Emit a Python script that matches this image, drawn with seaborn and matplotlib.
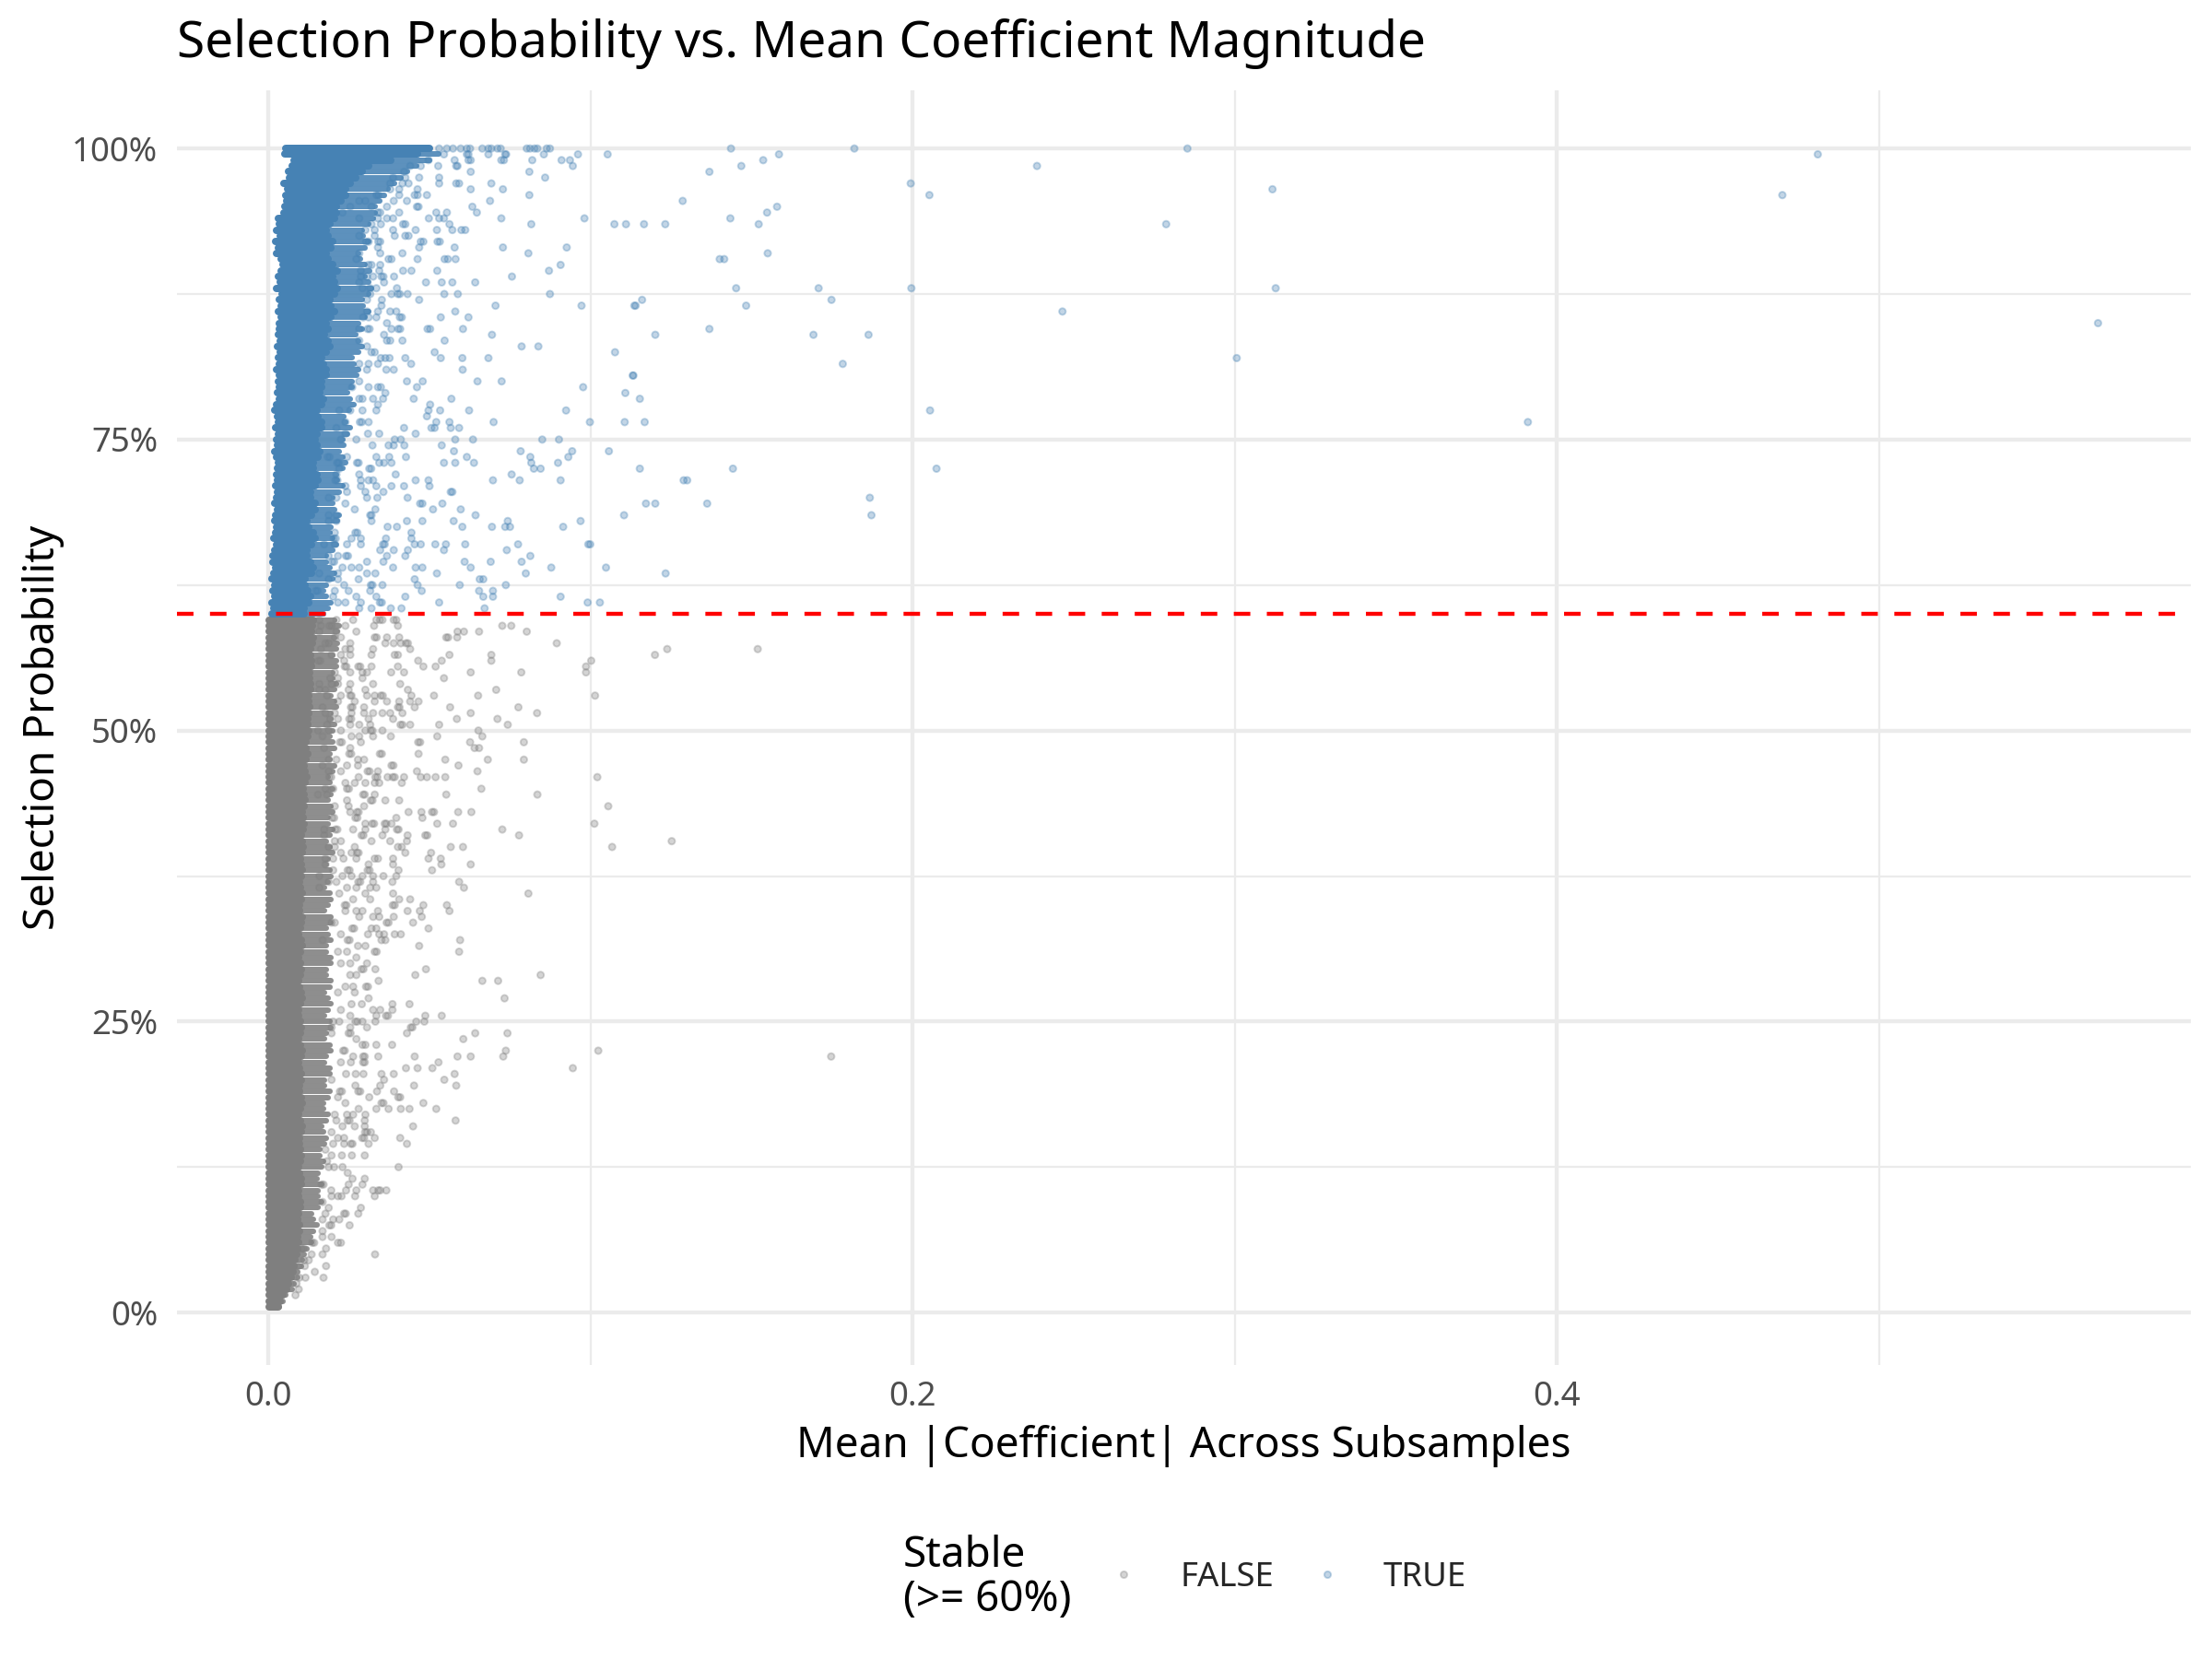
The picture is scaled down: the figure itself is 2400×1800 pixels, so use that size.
#!/usr/bin/env python3
import matplotlib
matplotlib.use('Agg')
import matplotlib.pyplot as plt
from matplotlib.lines import Line2D
import pandas as pd
import seaborn as sns

stable_90s = {
    100.0: [53.0, 55.4, 57.3, 59.7, 61.6, 62.6, 66.4, 68.3, 69.2, 71.1, 72.1, 80.2, 81.2, 82.6, 83.5, 86.4, 87.4],
    99.5: [54.5, 61.6, 62.1, 68.3, 73.5, 73.8, 85.5, 96.1, 105.3],
    99.0: [49.7, 57.8, 62.1, 62.8, 72.3, 73.1, 81.9, 91.0, 93.6],
    98.5: [44.0, 47.3, 52.7, 58.3, 58.7, 94.5],
    98.0: [42.1, 62.8, 81.0],
    97.5: [38.7, 42.5, 46.8, 53.0, 85.9],
    97.0: [37.8, 41.6, 43.5, 53.0, 58.3, 59.2, 69.2],
    96.5: [37.8, 40.6, 46.3, 62.8, 72.8],
    96.0: [33.5, 34.1, 40.6, 45.4, 46.3, 49.2, 81.0],
    95.5: [28.2, 30.1, 38.9, 43.0, 68.8],
    95.0: [25.4, 32.0, 36.8, 46.1, 46.6, 63.3],
    94.5: [23.0, 34.0, 34.7, 40.6, 52.1, 55.4, 64.7],
    94.0: [28.2, 34.0, 36.8, 38.7, 49.8, 53.0, 54.5, 72.3, 98.1],
    93.5: [32.0, 34.9, 41.8, 42.5, 56.2, 81.6, 107.4, 111.0],
    93.0: [30.1, 33.0, 38.7, 45.7, 52.3, 57.1, 59.9, 61.1],
    92.5: [28.2, 33.0, 39.2, 42.5, 43.5],
    92.0: [30.3, 31.1, 34.1, 34.7, 47.3, 48.1, 52.5, 53.2],
    91.5: [34.0, 46.8, 57.8, 72.8, 92.6],
    91.0: [28.2, 34.7, 41.6, 80.7],
    90.5: [27.3, 37.3, 38.2, 46.3, 54.7, 55.7, 58.1],
    90.0: [31.1, 32.0, 34.7, 90.7],
}
stable_80s = {
    89.5: [28.7, 34.4, 41.8, 44.4, 52.4, 87.1],
    89.0: [28.7, 30.6, 32.5, 35.1, 35.7, 39.0, 75.6],
    88.5: [28.2, 35.9, 48.9, 53.8, 57.1, 64.2],
    88.0: [29.2, 31.6, 33.5, 39.9],
    87.5: [31.6, 38.2, 40.2, 40.8, 43.2, 54.6, 58.8, 87.4],
    87.0: [30.6, 35.2, 46.8],
    86.5: [35.1, 70.5, 97.2, 113.6],
    86.0: [30.6, 34.0, 37.8, 39.7, 58.0],
    85.5: [29.4, 31.1, 33.5, 40.8, 41.4, 53.5, 62.1],
    85.0: [36.8],
    84.5: [28.2, 30.8, 31.4, 38.2, 40.3, 40.9, 49.4, 50.2, 60.4],
    84.0: [35.9, 69.4],
    83.5: [28.2, 36.8, 37.8, 41.6, 54.7],
    83.0: [30.6, 78.6, 83.8],
    82.5: [32.0, 33.0, 51.6, 107.6],
    82.0: [34.9, 36.3, 37.6, 42.5, 53.5, 60.2, 68.3],
    81.5: [28.2, 31.1, 34.0, 44.3],
    81.0: [30.6, 36.6, 38.9, 60.3],
    80.5: [113.1],
    80.0: [28.2, 43.0, 47.9, 64.9, 72.4],
}
stable_70s = {
    79.5: [26.0, 31.1, 34.0, 34.9, 46.1, 97.7],
    79.0: [36.3, 110.8],
    78.5: [28.2, 29.2, 32.5, 35.6, 45.1, 56.8],
    78.0: [34.0, 50.2],
    77.5: [22.0, 25.4, 29.2, 33.5, 49.7, 53.3, 62.3, 92.4],
    77.0: [49.2],
    76.5: [23.9, 28.4, 29.0, 31.1, 52.1, 56.2, 69.9, 99.8, 110.6],
    76.0: [21.1, 42.1, 50.6, 51.6, 56.6, 59.2],
    75.5: [23.9, 30.9, 34.4, 45.7],
    75.0: [22.5, 27.3, 39.2, 41.1, 58.0, 63.5, 85.0, 90.2],
    74.5: [32.3, 37.3, 38.9, 42.2, 53.8],
    74.0: [57.6, 78.3, 94.3, 105.7],
    73.5: [18.4, 19.0, 24.4, 33.5, 37.5, 42.7, 61.6, 81.3, 93.1],
    73.0: [21.3, 21.8, 27.5, 28.0, 34.4, 35.9, 38.2, 54.5, 58.0, 63.8, 81.6, 89.9],
    72.5: [22.0, 31.3, 31.9, 82.4, 84.5],
    72.0: [21.1, 28.2, 39.5, 75.5],
    71.5: [20.8, 21.4, 28.7, 31.1, 32.5, 45.7, 49.7, 69.7, 78.0, 90.7],
    71.0: [23.9, 28.7, 33.5, 38.2, 42.1, 50.0],
    70.5: [24.4, 30.1, 35.7, 56.6, 57.1],
    70.0: [18.7, 21.1, 30.6, 33.8, 43.2],
}
stable_60s = {
    69.5: [23.9, 47.1, 47.8, 54.0],
    69.0: [26.8, 33.2, 51.1, 59.7],
    68.5: [18.7, 21.1, 31.6, 32.0, 64.3, 110.4],
    68.0: [18.7, 21.1, 32.0, 43.0, 47.8, 57.5, 74.3, 96.9],
    67.5: [37.0, 39.9, 60.2, 69.4, 73.5, 75.0, 91.5],
    67.0: [20.6, 27.0, 27.6, 44.4],
    66.5: [20.3, 20.9, 25.8, 28.7, 36.5, 44.4],
    66.0: [17.3, 20.6, 24.4, 28.7, 35.6, 36.1, 45.4, 47.3, 51.8, 55.1, 61.1, 77.5, 99.3, 99.9],
    65.5: [34.7, 38.9, 43.3, 54.5, 74.0],
    65.0: [18.7, 21.6, 24.1, 24.7, 36.8, 42.5, 81.3],
    64.5: [19.8, 20.4, 30.6, 35.7, 60.9, 69.0, 78.6],
    64.0: [23.0, 25.8, 28.2, 38.7, 45.7, 47.8, 62.8, 87.8, 104.8],
    63.5: [15.8, 21.6, 30.6, 33.2, 52.3, 79.9],
    63.0: [18.7, 21.6, 28.0, 45.4, 65.6, 66.7],
    62.5: [23.5, 31.8, 32.3, 35.4, 46.3, 59.4, 73.7],
    62.0: [14.7, 15.3, 20.6, 24.9, 31.6, 47.6, 65.4, 69.7],
    61.5: [20.1, 27.3, 33.5, 42.5, 66.7, 69.7, 90.7],
    61.0: [21.6, 23.9, 28.7, 34.6, 35.2, 53.0, 99.1, 102.9],
    60.5: [28.2, 32.0, 38.0, 41.3, 67.1],
}
unstable_50s = {
    59.5: [15.8, 21.1, 26.3, 33.5, 34.6, 35.4, 38.9, 39.7],
    59.0: [16.3, 18.9, 19.6, 23.9, 32.8, 40.2, 72.6, 75.4],
    58.5: [15.8, 21.1, 27.3, 58.7, 60.7, 65.4, 80.2],
    58.0: [20.6, 22.5, 33.0, 33.6, 36.8, 40.6, 55.2, 55.8, 58.6],
    57.5: [17.7, 18.7, 25.4, 36.3, 38.9, 41.1, 42.7, 43.3, 89.5],
    57.0: [16.3, 23.9, 25.4, 32.5, 44.0],
    56.5: [19.6, 22.5, 25.4, 32.0, 39.2, 40.2, 56.2, 69.2],
    56.0: [15.5, 16.1, 23.5, 46.5, 53.8, 69.2, 100.2],
    55.5: [23.7, 24.2, 27.9, 28.5, 32.0, 40.2, 48.1, 51.9, 98.6],
    55.0: [20.6, 25.4, 29.2, 30.6, 38.1, 42.1, 62.8, 78.5, 98.6],
    54.5: [19.2, 21.6, 29.2, 54.5],
    54.0: [15.8, 19.6, 21.6, 25.4, 32.5, 40.9],
    53.5: [15.8, 17.7, 24.9, 30.1, 43.3, 70.7],
    53.0: [18.2, 22.5, 25.4, 25.8, 30.6, 33.0, 34.9, 35.5, 44.4, 51.4, 65.1, 101.4],
    52.5: [21.6, 26.8, 33.0, 36.8, 40.6, 44.0, 46.6],
    52.0: [16.8, 25.6, 26.1, 29.7, 40.2, 40.7, 45.4, 56.4, 77.6],
    51.5: [17.7, 20.6, 25.8, 29.7, 32.5, 35.4, 37.8, 41.6, 62.8, 83.4],
    51.0: [19.2, 21.6, 25.1, 25.7, 31.1, 38.7, 58.5, 71.1],
    50.5: [18.2, 25.4, 28.2, 31.6, 41.0, 41.6, 44.0, 53.0, 74.3],
    50.0: [15.4, 18.7, 22.5, 30.1, 31.8, 32.3, 35.4, 65.2],
}
unstable_40s = {
    49.5: [16.8, 25.8, 28.2, 32.5, 38.0, 52.4, 66.4],
    49.0: [22.2, 22.8, 28.7, 46.5, 47.1, 62.6, 79.3],
    48.5: [17.3, 25.4, 64.0, 65.4],
    48.0: [25.1, 25.7, 34.6, 35.2, 46.6],
    47.5: [18.7, 21.1, 27.8, 29.7, 54.9, 68.1, 79.3],
    47.0: [16.8, 24.4, 27.8, 38.2, 38.8, 59.0],
    46.5: [18.7, 22.5, 30.8, 31.4, 34.0, 46.1, 64.9],
    46.0: [18.9, 19.5, 28.0, 33.2, 33.8, 37.0, 38.6, 39.2, 42.1, 47.3, 49.2, 51.9, 54.9, 102.1],
    45.5: [23.9, 26.8, 30.1, 33.0, 34.4, 41.4],
    45.0: [17.7, 20.1, 24.4, 25.0, 66.1],
    44.5: [15.4, 18.2, 29.4, 29.9, 33.0, 55.2, 83.5],
    44.0: [24.4, 31.8, 32.3, 36.3, 40.6],
    43.5: [20.6, 24.9, 29.7, 105.5],
    43.0: [25.4, 27.5, 28.0, 43.5, 47.5, 50.8, 51.4, 58.9, 63.0],
    42.5: [19.8, 20.4, 27.0, 27.6, 39.7, 47.8],
    42.0: [30.1, 32.2, 32.8, 36.1, 36.6, 38.2, 52.4, 57.3, 101.2],
    41.5: [17.3, 20.8, 21.4, 26.3, 30.1, 36.3, 39.9, 40.4, 72.6],
    41.0: [17.3, 28.9, 29.5, 35.4, 43.2, 48.7, 49.3, 77.8],
    40.5: [20.6, 22.5, 32.0, 37.8, 43.0],
    40.0: [18.7, 20.6, 26.8, 40.2, 41.4, 56.6, 60.4, 106.7],
}
unstable_30s = {
    39.5: [22.5, 25.8, 27.5, 28.0, 42.5, 50.5],
    39.0: [17.7, 20.1, 23.3, 27.3, 33.0, 34.0, 38.7, 49.7, 53.5],
    38.5: [17.7, 31.1, 38.7, 53.7, 62.8],
    38.0: [20.1, 24.6, 25.2, 30.8, 31.4, 40.4, 50.8],
    37.5: [15.8, 23.0, 25.8, 29.2, 32.5, 35.7, 39.7],
    37.0: [18.7, 21.1, 27.9, 28.5, 32.5, 38.5, 59.2],
    36.5: [15.8, 24.4, 27.3, 31.6, 33.5, 60.7],
    36.0: [22.0, 30.1, 38.7, 80.7],
    35.5: [26.3, 31.6, 40.6, 44.0],
    35.0: [23.7, 24.2, 38.6, 39.2, 48.1, 55.4],
    34.5: [23.9, 27.3, 29.2, 34.0, 43.2, 47.0, 56.2],
    34.0: [28.2, 32.5, 34.4, 38.9, 47.6],
    33.5: [19.6, 20.6, 36.7, 37.3, 44.9],
    33.0: [26.0, 26.6, 32.0, 33.5, 49.7],
    32.5: [22.5, 30.9, 34.4, 35.9, 39.2, 41.1],
    32.0: [16.8, 24.6, 25.2, 35.1, 36.3, 59.5],
    31.5: [27.8, 30.1, 46.8],
    31.0: [21.6, 24.4, 33.0, 33.6, 59.2],
    30.5: [27.3],
    30.0: [22.5, 25.4, 30.6],
}
unstable_20s = {
    29.5: [28.9, 29.5, 33.2, 48.9],
    29.0: [25.4, 27.3, 45.6, 84.5],
    28.5: [34.2, 66.4, 71.3],
    28.0: [23.9, 26.3, 30.3, 30.9],
    27.5: [21.6, 26.8],
    27.0: [31.1, 73.3],
    26.5: [25.8, 29.0, 38.5, 43.8],
    26.0: [22.5, 32.5, 34.7, 38.5],
    25.5: [25.4, 33.5, 36.5, 37.1, 48.7, 53.8],
    25.0: [20.1, 22.0, 27.0, 27.6, 29.2, 33.2, 45.9, 48.4],
    24.5: [19.6, 25.4, 30.6, 44.2, 44.7],
    24.0: [19.6, 24.9, 25.5, 43.0, 64.2, 74.2],
    23.5: [27.3, 60.5],
    23.0: [29.2, 30.1, 33.5, 38.4],
    22.5: [23.2, 23.7, 73.7, 102.4],
    22.0: [26.3, 29.4, 29.9, 34.1, 45.4, 58.7, 62.8, 72.9],
    21.5: [22.5, 25.6, 29.4, 29.9, 52.8],
    21.0: [42.7, 46.3, 50.9, 94.5],
    20.5: [24.1, 27.1, 29.5, 35.1, 38.9, 57.8],
    20.0: [19.6, 35.9, 54.6],
}
unstable_10s = {
    19.5: [27.0, 34.7, 45.2, 58.3],
    19.0: [22.2, 22.8, 27.9, 28.5, 33.7, 39.0],
    18.5: [21.6, 31.3, 40.3, 40.9],
    18.0: [23.9, 35.1, 35.7, 48.1],
    17.5: [28.0, 33.5, 37.3, 41.1, 43.8, 52.1],
    17.0: [20.6, 24.4, 26.3, 30.1],
    16.5: [21.1, 24.6, 25.2, 29.9, 58.1],
    16.0: [23.0, 26.8, 29.9, 44.9],
    15.5: [19.6, 30.0, 30.6, 31.8],
    15.0: [21.6, 23.5, 29.1, 29.7, 33.0, 40.9],
    14.5: [20.1, 23.5, 25.6, 26.1, 31.1, 43.0],
    14.0: [17.7],
    13.5: [19.6, 22.8, 25.9, 29.9],
    13.0: [18.2],
    12.5: [18.7, 20.4, 23.0, 40.4],
    12.0: [24.6],
    11.5: [26.1, 29.9],
    11.0: [16.5, 17.1, 24.9, 29.2],
    10.5: [19.5, 24.1, 27.3, 32.5, 34.1, 34.7, 36.6],
    10.0: [19.6, 21.6, 22.7, 26.9, 33.0],
}
unstable_00s = {
    9.5: [16.8],
    9.0: [18.7, 28.7],
    8.5: [17.7, 23.5, 24.0, 27.9],
    8.0: [16.8, 20.1, 22.0],
    7.5: [18.9, 19.5, 25.2],
    7.0: [16.8],
    6.5: [16.8, 19.6],
    6.0: [13.6, 14.2, 21.6, 22.5],
    5.5: [10.3, 10.9, 17.9],
    5.0: [13.4, 16.8, 33.1],
    4.5: [11.1, 12.5],
    4.0: [9.2, 11.3, 17.9],
    3.5: [14.4],
    3.0: [9.6, 11.5, 17.1],
    2.5: [8.7],
    2.0: [9.4],
    1.5: [8.4],
}

# Far outliers, in plain units
stable_far_x = [.1436, .1819, .2853, .1585, .1536, .1468, .1369, .2386, .1994, .2052, .3117, .1286,
                .1579, .1548, .1434, .1166, .1232, .1522, .2787, .1550, .1401, .1415, .1452, .1708,
                .1996, .3127, .1160, .1748, .1140, .1483, .2465, .1369, .1201, .1692, .1863, .1783,
                .3006, .1133, .1153, .1168, .2054, .1153, .1442, .2074, .1289, .1300, .1867, .1172,
                .1201, .1362, .1872, .1233, .481, .470, .568, .391]
stable_far_y = [100, 100, 100, 99.5, 99, 98.5, 98, 98.5, 97, 96, 96.5, 95.5,
                95, 94.5, 94, 93.5, 93.5, 93.5, 93.5, 91, 90.5, 90.5, 88, 88,
                88, 88, 87, 87, 86.5, 86.5, 86, 84.5, 84, 84, 84, 81.5,
                82, 80.5, 78.5, 76.5, 77.5, 72.5, 72.5, 72.5, 71.5, 71.5, 70, 69.5,
                69.5, 69.5, 68.5, 63.5, 99.5, 96, 85, 76.5]
unstable_far_x = [.120, .1238, .1519, .1252, .1747]
unstable_far_y = [56.5, 57, 57, 40.5, 22]

# Solid overplotted column, per level: left end, solid end, speckled end (x in 1/1000)
stable_levels = [60.0, 60.5, 61.0, 61.5, 62.0, 62.5, 63.0, 63.5, 64.0, 64.5,
                 65.0, 65.5, 66.0, 66.5, 67.0, 67.5, 68.0, 68.5, 69.0, 69.5,
                 70.0, 70.5, 71.0, 71.5, 72.0, 72.5, 73.0, 73.5, 74.0, 74.5,
                 75.0, 75.5, 76.0, 76.5, 77.0, 77.5, 78.0, 78.5, 79.0, 79.5,
                 80.0, 80.5, 81.0, 81.5, 82.0, 82.5, 83.0, 83.5, 84.0, 84.5,
                 85.0, 85.5, 86.0, 86.5, 87.0, 87.5, 88.0, 88.5, 89.0, 89.5,
                 90.0, 90.5, 91.0, 91.5, 92.0, 92.5, 93.0, 93.5, 94.0, 94.5,
                 95.0, 95.5, 96.0, 96.5, 97.0, 97.5, 98.0, 98.5, 99.0, 99.5, 100.0]
stable_left = [1.2, 1.6, 1.1, 1.9, 1.4, 2.0, 1.0, 1.7, 2.2, 1.5,
               1.3, 1.9, 2.4, 1.6, 2.1, 2.6, 1.8, 2.3, 2.8, 2.0,
               2.4, 2.7, 2.2, 2.9, 2.5, 2.8, 3.1, 2.4, 2.0, 2.9,
               2.6, 3.0, 2.3, 3.2, 2.7, 1.8, 2.5, 3.3, 2.9, 3.4,
               3.0, 3.5, 2.6, 3.4, 3.1, 3.6, 2.9, 3.7, 3.2, 3.5,
               3.3, 3.8, 3.1, 3.9, 3.5, 4.1, 2.6, 3.6, 3.0, 4.0,
               4.4, 4.0, 2.4, 3.2, 2.2, 3.7, 2.6, 3.4, 3.0, 4.8,
               5.0, 5.6, 5.3, 6.0, 4.8, 6.5, 6.2, 7.4, 7.8, 5.2, 5.4]
stable_solid = [11.0, 11.0, 12.5, 13.0, 12.2, 11.5, 11.5, 13.5, 14.0, 13.0,
                12.0, 12.0, 13.5, 14.5, 14.0, 12.5, 12.0, 13.5, 14.5, 14.5,
                13.0, 13.0, 14.5, 15.5, 15.0, 14.0, 14.0, 15.5, 16.0, 15.0,
                14.5, 15.0, 16.5, 16.5, 15.5, 15.0, 16.5, 17.0, 16.0, 16.5,
                16.5, 18.0, 18.0, 17.0, 16.5, 18.0, 19.0, 18.5, 17.5, 18.5,
                18.0, 19.5, 20.5, 19.5, 19.0, 20.5, 21.5, 20.5, 20.0, 21.5,
                20.0, 18.5, 18.0, 19.5, 20.0, 18.5, 18.0, 19.0, 20.5, 21.0,
                21.0, 22.5, 24.0, 24.0, 25.5, 27.0, 29.0, 31.0, 38.0, 46.2, 50.0]
stable_speckle = [17.0, 18.5, 19.5, 18.0, 17.0, 18.0, 20.0, 20.5, 19.0, 18.0,
                  18.0, 20.0, 21.0, 20.0, 19.0, 19.5, 21.5, 22.0, 20.5, 20.0,
                  20.0, 22.0, 23.0, 21.5, 21.0, 23.0, 24.0, 23.0, 22.0, 23.5,
                  23.0, 24.5, 25.5, 24.0, 23.5, 25.0, 26.5, 25.5, 24.5, 26.0,
                  26.0, 27.5, 28.0, 26.5, 26.0, 28.0, 29.0, 28.0, 27.0, 29.0,
                  28.0, 30.0, 31.0, 29.5, 29.0, 31.0, 32.0, 31.0, 30.0, 31.5,
                  30.0, 28.5, 28.0, 30.0, 31.0, 29.5, 29.0, 31.0, 32.5, 33.0,
                  33.0, 34.5, 36.0, 37.0, 39.0, 41.0, 43.0, 46.0, 50.0, 52.8, 50.0]

unstable_levels = [0.5, 1.0, 1.5, 2.0, 2.5, 3.0, 3.5, 4.0, 4.5, 5.0,
                   5.5, 6.0, 6.5, 7.0, 7.5, 8.0, 8.5, 9.0, 9.5, 10.0,
                   10.5, 11.0, 11.5, 12.0, 12.5, 13.0, 13.5, 14.0, 14.5, 15.0,
                   15.5, 16.0, 16.5, 17.0, 17.5, 18.0, 18.5, 19.0, 19.5, 20.0,
                   20.5, 21.0, 21.5, 22.0, 22.5, 23.0, 23.5, 24.0, 24.5, 25.0,
                   25.5, 26.0, 26.5, 27.0, 27.5, 28.0, 28.5, 29.0, 29.5, 30.0,
                   30.5, 31.0, 31.5, 32.0, 32.5, 33.0, 33.5, 34.0, 34.5, 35.0,
                   35.5, 36.0, 36.5, 37.0, 37.5, 38.0, 38.5, 39.0, 39.5, 40.0,
                   40.5, 41.0, 41.5, 42.0, 42.5, 43.0, 43.5, 44.0, 44.5, 45.0,
                   45.5, 46.0, 46.5, 47.0, 47.5, 48.0, 48.5, 49.0, 49.5, 50.0,
                   50.5, 51.0, 51.5, 52.0, 52.5, 53.0, 53.5, 54.0, 54.5, 55.0,
                   55.5, 56.0, 56.5, 57.0, 57.5, 58.0, 58.5, 59.0, 59.5]
unstable_solid = [3.0, 3.6, 4.6, 5.6, 6.3, 7.2, 7.6, 8.0, 8.3, 8.8,
                  9.1, 9.4, 9.2, 9.6, 9.6, 9.2, 9.4, 10.0, 10.0, 9.5,
                  9.5, 10.2, 10.2, 9.6, 9.3, 9.9, 10.3, 10.0, 9.6, 9.6,
                  10.2, 10.4, 9.8, 9.5, 10.0, 10.5, 10.2, 9.6, 9.6, 10.3,
                  10.3, 9.7, 9.4, 10.1, 10.4, 9.9, 9.5, 9.9, 10.3, 10.0,
                  9.4, 9.4, 10.0, 10.4, 10.2, 9.6, 9.4, 10.0, 10.3, 9.8,
                  9.5, 10.0, 10.4, 10.1, 9.5, 9.8, 10.3, 10.4, 9.7, 9.7,
                  10.3, 10.5, 10.0, 9.7, 10.2, 10.6, 10.3, 9.9, 10.4, 10.7,
                  10.5, 10.2, 10.7, 11.1, 10.8, 10.5, 11.1, 11.4, 11.0, 10.9,
                  11.5, 11.9, 11.4, 11.2, 11.8, 12.2, 11.8, 11.7, 12.2, 12.4,
                  12.2, 12.1, 12.6, 12.9, 12.5, 12.4, 13.0, 13.1, 12.7, 12.8,
                  13.3, 13.5, 13.0, 13.1, 13.7, 13.9, 13.4, 13.6, 14.0]
unstable_speckle = [3.4, 4.6, 5.4, 7.4, 7.8, 9.0, 9.2, 10.1, 10.4, 11.0,
                    12.0, 13.5, 13.0, 14.0, 15.0, 14.0, 13.5, 15.5, 16.5, 15.5,
                    15.5, 16.5, 15.0, 15.5, 16.5, 17.0, 16.0, 16.0, 17.5, 18.0,
                    17.0, 16.5, 18.0, 18.5, 17.0, 17.0, 18.5, 19.0, 17.5, 17.5,
                    19.0, 19.0, 17.5, 18.0, 19.5, 19.0, 17.5, 18.0, 19.5, 19.0,
                    17.5, 18.5, 19.5, 18.5, 17.5, 19.0, 19.5, 18.0, 18.0, 19.5,
                    19.5, 18.0, 18.0, 19.5, 18.5, 18.0, 19.5, 19.5, 17.5, 18.5,
                    19.5, 19.0, 17.5, 18.5, 19.5, 19.0, 18.0, 18.5, 20.0, 19.0,
                    18.0, 19.0, 20.0, 18.5, 18.5, 20.0, 19.5, 18.5, 19.5, 20.0,
                    19.0, 18.5, 20.0, 20.5, 19.0, 19.0, 20.5, 20.0, 19.0, 20.0,
                    20.5, 19.5, 19.5, 21.0, 20.5, 19.5, 20.5, 21.0, 20.0, 20.0,
                    21.0, 21.0, 20.0, 21.0, 21.5, 20.5, 21.5, 22.0, 20.5]
unstable_left = 0.3

x_major = [0.0, 0.2, 0.4]
x_minor = [0.1, 0.3, 0.5]
y_major = [0, 25, 50, 75, 100]
y_minor = [12.5, 37.5, 62.5, 87.5]
threshold = 60

GREY = '#7F7F7F'
BLUE = '#4682B4'
PT_ALPHA = 0.33


def RowsToFrame(tables, far_x, far_y, stable):
    rows = []
    for table in tables:
        for level, xs in table.items():
            for x in xs:
                rows.append((x / 1000.0, level, stable))
    for x, y in zip(far_x, far_y):
        rows.append((x, y, stable))
    return pd.DataFrame(rows, columns=['coef', 'prob', 'stable'])


def DrawColumn(ax, levels, left, solid, speckle, color):
    """
    Where points pile up the picture is a flat block, drawn level by level.
    """
    left = [v / 1000.0 for v in left]
    ax.hlines(levels, left, [v / 1000.0 for v in speckle], color=color, alpha=0.88,
              linewidth=1.45, capstyle='round', zorder=2)
    ax.hlines(levels, left, [v / 1000.0 for v in solid], color=color,
              linewidth=1.92, capstyle='round', zorder=2.1)


sns.set_theme(style='white')
plt.rcParams['font.family'] = ['Noto Sans', 'DejaVu Sans']
plt.rcParams['lines.scale_dashes'] = False

df = pd.concat([
    RowsToFrame([unstable_50s, unstable_40s, unstable_30s, unstable_20s, unstable_10s, unstable_00s],
                unstable_far_x, unstable_far_y, False),
    RowsToFrame([stable_90s, stable_80s, stable_70s, stable_60s], stable_far_x, stable_far_y, True),
])

fig = plt.figure(figsize=(8, 6), dpi=300)
ax = fig.add_axes([192 / 2400, 1 - 1481 / 1800, (2377 - 192) / 2400, (1481 - 98) / 1800])

DrawColumn(ax, unstable_levels, [unstable_left] * len(unstable_levels), unstable_solid, unstable_speckle, GREY)
DrawColumn(ax, stable_levels, stable_left, stable_solid, stable_speckle, BLUE)

sns.scatterplot(data=df, x='coef', y='prob', hue='stable', palette={False: GREY, True: BLUE},
                alpha=PT_ALPHA, s=3.0, linewidth=0.45, edgecolor='face', legend=False, ax=ax, zorder=3)

ax.axhline(threshold, color='red', linewidth=1.05, dashes=(4.3, 4.3), dash_capstyle='butt', zorder=4)

ax.set_xlim(-0.0284, 0.5968)
ax.set_ylim(-4.5, 105)
ax.set_xticks(x_major)
ax.set_xticklabels(['%.1f' % v for v in x_major])
ax.set_xticks(x_minor, minor=True)
ax.set_yticks(y_major)
ax.set_yticklabels(['%d%%' % v for v in y_major])
ax.set_yticks(y_minor, minor=True)
ax.grid(True, which='major', color='#EBEBEB', linewidth=1.05)
ax.grid(True, which='minor', color='#EBEBEB', linewidth=0.53)
ax.set_axisbelow(True)
sns.despine(ax=ax, left=True, bottom=True)
ax.tick_params(axis='both', which='both', length=0, labelsize=8.8, labelcolor='#4D4D4D', pad=5)
ax.tick_params(axis='x', pad=4)

ax.set_xlabel('Mean |Coefficient| Across Subsamples', fontsize=11, color='black', labelpad=3)
ax.set_ylabel('Selection Probability', fontsize=11, color='black', labelpad=2)
ax.set_title('Selection Probability vs. Mean Coefficient Magnitude', fontsize=13.2, loc='left', color='black', pad=8.7)

handles = [Line2D([], [], linestyle='none', marker='o', markersize=1.73, markeredgewidth=0.45,
                  color=c, alpha=PT_ALPHA) for c in (GREY, BLUE)]
fig.legend(handles, ['FALSE', 'TRUE'], ncol=2, frameon=False, fontsize=8.8, loc='center left',
           bbox_to_anchor=(1201 / 2400, 1 - 1712 / 1800), handlelength=1.0, handletextpad=1.16,
           columnspacing=1.08, borderpad=0, borderaxespad=0)
fig.text(980 / 2400, 1 - 1712 / 1800, 'Stable\n(>= 60%)', fontsize=11, va='center', ha='left', color='black',
         linespacing=1.08)

fig.savefig('out.png', dpi=300, facecolor='white')
